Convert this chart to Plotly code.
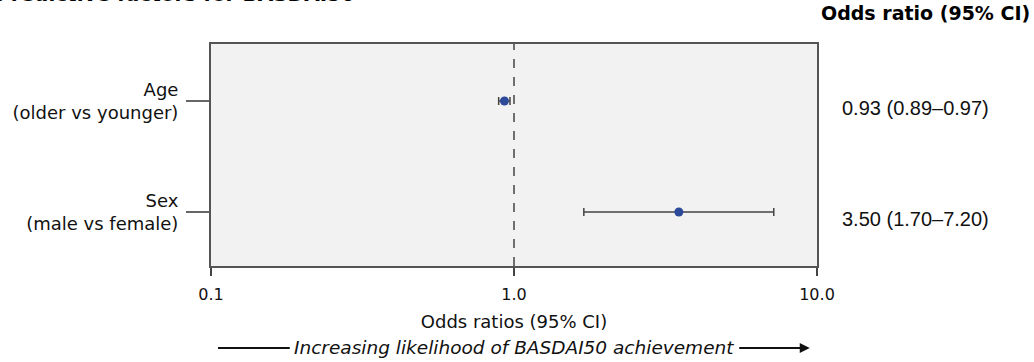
import plotly.graph_objects as go

factors = ["Age<br>(older vs younger)", "Sex<br>(male vs female)"]
odds = [0.93, 3.50]
ci_low = [0.89, 1.70]
ci_high = [0.97, 7.20]
ci_text = ["0.93 (0.89–0.97)", "3.50 (1.70–7.20)"]
row_pos = [1, 0]
x_ticks = [0.1, 1, 10]
x_ticktext = ["0.1", "1.0", "10.0"]

FONT = "Tahoma, 'DejaVu Sans', sans-serif"

fig = go.Figure()
fig.add_trace(go.Scatter(
    x=odds, y=row_pos, mode="markers",
    marker=dict(color="#2d4a9a", size=9),
    error_x=dict(type="data", symmetric=False,
                 array=[h - o for h, o in zip(ci_high, odds)],
                 arrayminus=[o - l for o, l in zip(odds, ci_low)],
                 color="#444444", thickness=1.5, width=4),
    showlegend=False, hoverinfo="skip",
))

fig.add_vline(x=1, line=dict(color="#444444", width=1.5, dash="dash"))

for y, t in zip(row_pos, ci_text):
    fig.add_annotation(x=1, xref="paper", y=y, yref="y", text=t, showarrow=False,
                       xanchor="left", yanchor="middle", xshift=23, yshift=-7,
                       font=dict(family="Arial, 'Liberation Sans'", size=20, color="#111"))

fig.add_annotation(x=1, xref="paper", y=1, yref="paper", text="<b>Odds ratio (95% CI)</b>",
                   showarrow=False, xanchor="right", yanchor="bottom", xshift=215, yshift=18,
                   font=dict(family=FONT, size=19, color="#000"))

fig.add_annotation(x=0, xref="paper", y=1, yref="paper", text="<b>Predictive factors for BASDAI50</b>",
                   showarrow=False, xanchor="left", yanchor="bottom", xshift=-217, yshift=35.5,
                   font=dict(family=FONT, size=20, color="#000"))

fig.add_annotation(x=0.5, xref="paper", y=-0.369, yref="paper",
                   text="<i>Increasing likelihood of BASDAI50 achievement</i>",
                   showarrow=False, yanchor="middle", xanchor="center",
                   font=dict(family=FONT, size=18.5, color="#111"))
fig.add_shape(type="line", xref="paper", yref="paper", x0=0.0116, x1=0.13, y0=-0.369, y1=-0.369,
              line=dict(color="#111", width=2))
fig.add_annotation(x=0.988, xref="paper", y=-0.369, yref="paper", ax=-72, ay=0,
                   showarrow=True, arrowhead=2, arrowsize=1, arrowwidth=2, arrowcolor="#111", text="")

fig.update_xaxes(type="log", range=[-1, 1], tickvals=x_ticks, ticktext=x_ticktext,
                 ticks="outside", ticklen=8, tickcolor="#444", tickwidth=1.5,
                 showline=True, mirror=True, linecolor="#555", linewidth=2,
                 showgrid=False, zeroline=False, ticklabelstandoff=5,
                 tickfont=dict(family=FONT, size=16, color="#111"),
                 title=dict(text="Odds ratios (95% CI)", font=dict(family=FONT, size=18, color="#111"), standoff=12))
fig.update_yaxes(range=[-0.486, 1.514], tickvals=row_pos, ticktext=factors,
                 ticks="outside", ticklen=23, tickcolor="#666", tickwidth=1.5,
                 showline=True, mirror=True, linecolor="#555", linewidth=2,
                 showgrid=False, zeroline=False, ticklabelstandoff=4,
                 tickfont=dict(family=FONT, size=18, color="#111"))

fig.update_layout(width=1034, height=362, margin=dict(l=211, r=217, t=44, b=96, autoexpand=False),
                  plot_bgcolor="#f2f2f2", paper_bgcolor="white")
fig.write_html("out.html", config={"displayModeBar": False},
               post_script="document.body.style.margin='0';")
